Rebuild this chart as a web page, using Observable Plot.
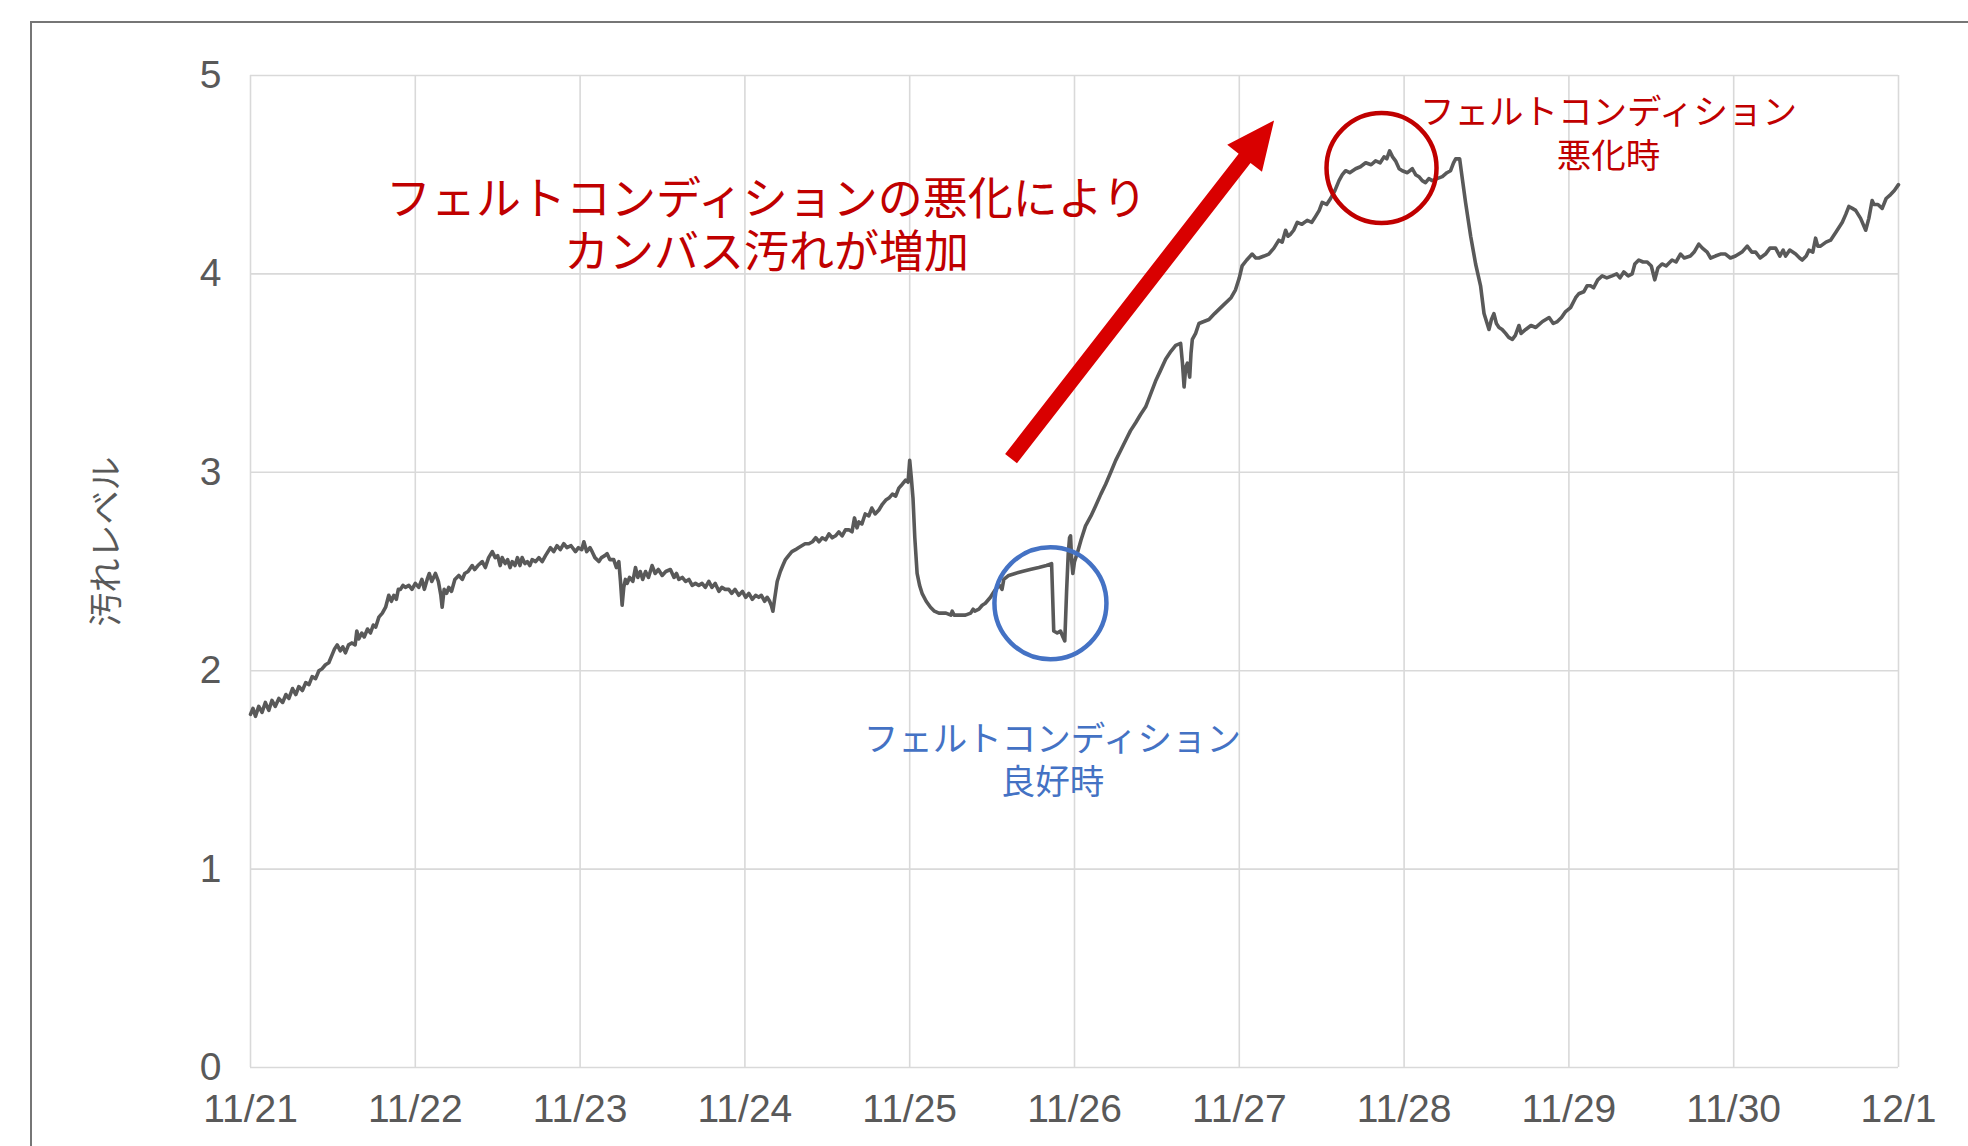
<!DOCTYPE html>
<html>
<head>
<meta charset="utf-8">
<script src="https://cdn.jsdelivr.net/npm/d3@7"></script>
<script src="https://cdn.jsdelivr.net/npm/@observablehq/plot@0.6"></script>
<style>
  html, body { margin: 0; padding: 0; background: #fff; overflow: hidden; }
  #wrap { position: relative; width: 1968px; height: 1146px; overflow: hidden; }
  #frame { position: absolute; left: 30px; top: 21px; width: 3000px; height: 3000px;
           border-left: 2.5px solid #767676; border-top: 2.5px solid #767676; }
  #chart { position: absolute; left: 0; top: 0; }
</style>
</head>
<body>
<div id="wrap"><div id="frame"></div><div id="chart"></div></div>
<script>
// ---- data (day offset from 11/21 00:00, dirt level) ----
const startDate = Date.UTC(2021, 10, 21);
const xTickLabels = ["11/21","11/22","11/23","11/24","11/25","11/26","11/27","11/28","11/29","11/30","12/1"];
const yTicks = [0, 1, 2, 3, 4, 5];
const yTickLabels = ["0", "1", "2", "3", "4", "5"];
const yLabel = "汚れレベル";

const readings = [
  [0.000,1.78],[0.015,1.81],[0.030,1.77],[0.050,1.82],[0.070,1.79],[0.090,1.84],[0.111,1.80],[0.130,1.85],
  [0.150,1.82],[0.172,1.86],[0.195,1.84],[0.215,1.88],[0.233,1.86],[0.255,1.91],[0.275,1.88],[0.293,1.92],
  [0.315,1.90],[0.335,1.94],[0.355,1.93],[0.374,1.97],[0.395,1.96],[0.415,2.00],[0.435,2.01],[0.455,2.03],
  [0.475,2.04],[0.495,2.08],[0.510,2.11],[0.526,2.13],[0.545,2.10],[0.560,2.12],[0.576,2.09],[0.595,2.13],
  [0.615,2.14],[0.635,2.13],[0.645,2.20],[0.657,2.16],[0.675,2.19],[0.690,2.17],[0.710,2.21],[0.728,2.19],
  [0.745,2.23],[0.760,2.22],[0.779,2.27],[0.800,2.29],[0.820,2.32],[0.839,2.38],[0.855,2.35],[0.870,2.38],
  [0.885,2.36],[0.897,2.41],[0.910,2.41],[0.925,2.43],[0.940,2.42],[0.961,2.43],[0.980,2.41],[1.000,2.44],
  [1.021,2.42],[1.040,2.46],[1.055,2.41],[1.072,2.46],[1.085,2.49],[1.100,2.45],[1.122,2.49],[1.140,2.45],
  [1.155,2.38],[1.163,2.32],[1.175,2.41],[1.190,2.39],[1.203,2.42],[1.220,2.40],[1.240,2.46],[1.264,2.48],
  [1.285,2.46],[1.300,2.49],[1.320,2.50],[1.345,2.53],[1.360,2.51],[1.380,2.53],[1.406,2.55],[1.425,2.52],
  [1.445,2.57],[1.467,2.60],[1.485,2.57],[1.500,2.58],[1.515,2.53],[1.527,2.57],[1.545,2.54],[1.560,2.56],
  [1.575,2.52],[1.588,2.55],[1.605,2.53],[1.620,2.57],[1.635,2.53],[1.648,2.57],[1.665,2.54],[1.680,2.55],
  [1.695,2.53],[1.709,2.56],[1.730,2.55],[1.750,2.57],[1.770,2.55],[1.790,2.58],[1.820,2.62],[1.840,2.60],
  [1.860,2.63],[1.880,2.61],[1.901,2.64],[1.920,2.62],[1.945,2.63],[1.972,2.60],[1.990,2.62],[2.010,2.61],
  [2.023,2.65],[2.040,2.60],[2.060,2.62],[2.073,2.60],[2.090,2.57],[2.114,2.55],[2.130,2.57],[2.150,2.58],
  [2.164,2.59],[2.180,2.56],[2.204,2.56],[2.220,2.52],[2.235,2.55],[2.245,2.45],[2.255,2.33],[2.265,2.42],
  [2.275,2.46],[2.286,2.44],[2.300,2.47],[2.320,2.45],[2.336,2.52],[2.350,2.47],[2.365,2.50],[2.380,2.46],
  [2.397,2.50],[2.415,2.47],[2.437,2.53],[2.455,2.49],[2.475,2.51],[2.498,2.48],[2.520,2.50],[2.548,2.51],
  [2.570,2.47],[2.585,2.49],[2.599,2.46],[2.620,2.47],[2.640,2.45],[2.660,2.46],[2.680,2.43],[2.700,2.44],
  [2.720,2.43],[2.740,2.44],[2.760,2.42],[2.781,2.45],[2.800,2.42],[2.820,2.44],[2.842,2.40],[2.860,2.42],
  [2.880,2.41],[2.902,2.41],[2.920,2.39],[2.940,2.41],[2.963,2.38],[2.985,2.40],[3.005,2.37],[3.024,2.39],
  [3.045,2.36],[3.065,2.38],[3.084,2.37],[3.100,2.38],[3.120,2.35],[3.135,2.37],[3.150,2.35],[3.160,2.33],
  [3.170,2.30],[3.180,2.36],[3.196,2.45],[3.215,2.50],[3.230,2.53],[3.246,2.56],[3.265,2.58],[3.285,2.60],
  [3.307,2.61],[3.325,2.62],[3.345,2.63],[3.365,2.64],[3.388,2.64],[3.410,2.65],[3.430,2.67],[3.450,2.65],
  [3.469,2.67],[3.490,2.66],[3.510,2.69],[3.530,2.67],[3.550,2.68],[3.570,2.70],[3.590,2.68],[3.610,2.71],
  [3.631,2.71],[3.650,2.70],[3.665,2.77],[3.680,2.72],[3.692,2.75],[3.710,2.74],[3.730,2.79],[3.752,2.78],
  [3.770,2.82],[3.790,2.79],[3.813,2.81],[3.835,2.84],[3.855,2.86],[3.874,2.87],[3.895,2.89],[3.915,2.88],
  [3.934,2.92],[3.955,2.94],[3.975,2.96],[3.990,2.95],[4.000,3.06],[4.010,2.97],[4.020,2.87],[4.031,2.67],
  [4.045,2.49],[4.060,2.43],[4.075,2.39],[4.100,2.35],[4.126,2.32],[4.150,2.30],[4.177,2.29],[4.220,2.29],
  [4.250,2.28],[4.258,2.30],[4.270,2.28],[4.300,2.28],[4.338,2.28],[4.370,2.29],[4.385,2.31],[4.395,2.30],
  [4.420,2.31],[4.440,2.33],[4.459,2.34],[4.490,2.37],[4.520,2.41],[4.545,2.43],[4.560,2.41],[4.571,2.46],
  [4.601,2.48],[4.640,2.49],[4.682,2.50],[4.730,2.51],[4.783,2.52],[4.830,2.53],[4.861,2.54],[4.874,2.20],
  [4.895,2.19],[4.915,2.20],[4.930,2.17],[4.941,2.15],[4.952,2.40],[4.962,2.59],[4.970,2.67],[4.976,2.68],
  [4.983,2.55],[4.990,2.49],[5.000,2.55],[5.016,2.59],[5.040,2.66],[5.067,2.73],[5.100,2.78],[5.128,2.83],
  [5.160,2.89],[5.189,2.94],[5.220,3.00],[5.250,3.06],[5.280,3.11],[5.310,3.16],[5.340,3.21],[5.371,3.25],
  [5.400,3.29],[5.432,3.33],[5.460,3.39],[5.492,3.46],[5.520,3.51],[5.553,3.57],[5.585,3.61],[5.614,3.64],
  [5.644,3.65],[5.655,3.55],[5.665,3.43],[5.675,3.53],[5.685,3.55],[5.699,3.48],[5.707,3.60],[5.715,3.67],
  [5.735,3.70],[5.755,3.75],[5.785,3.76],[5.816,3.77],[5.850,3.80],[5.900,3.84],[5.950,3.88],[5.977,3.92],
  [6.000,3.98],[6.017,4.04],[6.045,4.07],[6.078,4.10],[6.100,4.08],[6.119,4.08],[6.150,4.09],[6.179,4.10],
  [6.210,4.13],[6.240,4.17],[6.260,4.16],[6.281,4.22],[6.295,4.19],[6.311,4.20],[6.330,4.22],[6.352,4.26],
  [6.380,4.25],[6.412,4.27],[6.440,4.26],[6.463,4.29],[6.485,4.32],[6.503,4.36],[6.530,4.35],[6.554,4.38],
  [6.580,4.42],[6.605,4.47],[6.625,4.50],[6.645,4.52],[6.670,4.51],[6.706,4.53],[6.735,4.54],[6.767,4.56],
  [6.800,4.55],[6.827,4.57],[6.855,4.56],[6.878,4.59],[6.895,4.58],[6.912,4.62],[6.930,4.59],[6.948,4.57],
  [6.970,4.53],[6.989,4.52],[7.020,4.51],[7.050,4.53],[7.070,4.50],[7.090,4.49],[7.110,4.47],[7.130,4.46],
  [7.150,4.48],[7.171,4.47],[7.200,4.48],[7.232,4.49],[7.260,4.51],[7.282,4.52],[7.300,4.56],[7.313,4.58],
  [7.337,4.58],[7.350,4.50],[7.373,4.36],[7.404,4.19],[7.434,4.05],[7.464,3.94],[7.485,3.80],[7.500,3.76],
  [7.515,3.72],[7.530,3.77],[7.545,3.80],[7.560,3.75],[7.576,3.73],[7.595,3.72],[7.616,3.70],[7.635,3.68],
  [7.657,3.67],[7.675,3.69],[7.697,3.74],[7.710,3.70],[7.738,3.72],[7.770,3.74],[7.799,3.73],[7.840,3.76],
  [7.880,3.78],[7.905,3.75],[7.930,3.76],[7.955,3.78],[7.980,3.81],[8.010,3.83],[8.041,3.88],[8.060,3.90],
  [8.090,3.91],[8.110,3.94],[8.131,3.94],[8.150,3.93],[8.175,3.97],[8.202,3.99],[8.230,3.98],[8.262,3.99],
  [8.290,4.00],[8.310,3.98],[8.333,4.01],[8.360,3.99],[8.384,4.00],[8.400,4.05],[8.424,4.07],[8.450,4.06],
  [8.475,4.06],[8.500,4.04],[8.521,3.97],[8.540,4.03],[8.565,4.05],[8.590,4.04],[8.626,4.07],[8.650,4.06],
  [8.677,4.10],[8.700,4.08],[8.737,4.09],[8.760,4.11],[8.788,4.15],[8.810,4.13],[8.839,4.11],[8.860,4.08],
  [8.889,4.09],[8.920,4.10],[8.950,4.10],[8.980,4.08],[9.011,4.09],[9.050,4.11],[9.082,4.14],[9.110,4.11],
  [9.133,4.11],[9.160,4.08],[9.193,4.10],[9.220,4.13],[9.254,4.13],[9.280,4.09],[9.300,4.12],[9.315,4.09],
  [9.340,4.12],[9.376,4.10],[9.400,4.08],[9.416,4.07],[9.440,4.09],[9.457,4.12],[9.480,4.11],[9.497,4.18],
  [9.510,4.14],[9.527,4.14],[9.560,4.16],[9.588,4.17],[9.620,4.21],[9.659,4.26],[9.680,4.30],[9.699,4.34],
  [9.720,4.33],[9.740,4.32],[9.770,4.28],[9.801,4.22],[9.820,4.28],[9.840,4.37],[9.851,4.35],[9.875,4.35],
  [9.901,4.33],[9.925,4.38],[9.952,4.40],[9.975,4.42],[10.000,4.45]
];

// ---- annotations (in data coordinates: day offset, level) ----
const mainNote = {text: "フェルトコンディションの悪化により\nカンバス汚れが増加", at: [3.131, 4.249]};
const badNote = {text: "フェルトコンディション\n悪化時", at: [8.24, 4.715]};
const goodNote = {text: "フェルトコンディション\n良好時", at: [4.866, 1.556]};
const badCircle = [6.863, 4.534];
const goodCircle = [4.854, 2.34];
const trendArrow = {from: [4.618, 3.066], to: [6.214, 4.771]};

// ---- helpers ----
const DAY = 864e5;
const toDate = d => new Date(startDate + d * DAY);
const dayTicks = xTickLabels.map((_, i) => toDate(i));
const fmtX = d => xTickLabels[Math.round((+d - startDate) / DAY)];
const fmtY = v => yTickLabels[yTicks.indexOf(v)];

const RED = "#c00000", ARROW_RED = "#d90000", BLUE = "#4472c4", GRAY = "#595959";

function noteMark(note, color, size, lineHeight) {
  return Plot.text([note], {x: n => toDate(n.at[0]), y: n => n.at[1], text: "text", fill: color,
    fontSize: size, lineHeight, textAnchor: "middle", fontFamily: "'Noto Sans CJK JP', sans-serif"});
}

function arrowMark(a) {
  return (index, scales) => {
    const x1 = scales.x(toDate(a.from[0])), y1 = scales.y(a.from[1]);
    const x2 = scales.x(toDate(a.to[0])), y2 = scales.y(a.to[1]);
    const dx = x2 - x1, dy = y2 - y1, L = Math.hypot(dx, dy);
    const ux = dx / L, uy = dy / L, px = -uy, py = ux;
    const sw = 7.5, hw = 22, hl = 48;
    const bx = x2 - ux * hl, by = y2 - uy * hl;
    const pts = [
      [x1 + px * sw, y1 + py * sw], [bx + px * sw, by + py * sw], [bx + px * hw, by + py * hw],
      [x2, y2], [bx - px * hw, by - py * hw], [bx - px * sw, by - py * sw], [x1 - px * sw, y1 - py * sw]
    ];
    return d3.create("svg:path")
      .attr("d", "M" + pts.map(p => p.join(",")).join("L") + "Z")
      .attr("fill", ARROW_RED)
      .node();
  };
}

const chart = Plot.plot({
  width: 1968,
  height: 1146,
  marginLeft: 250,
  marginRight: 70,
  marginTop: 75,
  marginBottom: 79,
  style: {fontFamily: "'Liberation Sans', 'Noto Sans CJK JP', sans-serif", background: "transparent", color: GRAY},
  x: {type: "utc", domain: [toDate(0), toDate(10)]},
  y: {domain: [0, 5]},
  marks: [
    Plot.gridX(dayTicks, {stroke: "#d9d9d9", strokeOpacity: 1, strokeWidth: 1.6}),
    Plot.gridY(yTicks, {stroke: "#d9d9d9", strokeOpacity: 1, strokeWidth: 1.6}),
    Plot.axisX(dayTicks, {tickSize: 0, tickPadding: 27, fontSize: 39, tickFormat: fmtX, fill: GRAY, label: null}),
    Plot.axisY(yTicks, {tickSize: 0, tickPadding: 29, fontSize: 39, tickFormat: fmtY, fill: GRAY, label: null}),
    Plot.text([yLabel], {frameAnchor: "left", textAnchor: "middle", dx: -143, dy: -30, rotate: -90,
      fontSize: 34, fill: GRAY, fontFamily: "'Noto Sans CJK JP', sans-serif"}),
    Plot.line(readings, {x: r => toDate(r[0]), y: r => r[1], stroke: GRAY, strokeWidth: 3.6,
      strokeLinejoin: "round", strokeLinecap: "round"}),
    Plot.dot([badCircle], {x: c => toDate(c[0]), y: c => c[1], r: 55, stroke: RED, strokeWidth: 4.5, fill: "none"}),
    Plot.dot([goodCircle], {x: c => toDate(c[0]), y: c => c[1], r: 56, stroke: BLUE, strokeWidth: 4.5, fill: "none"}),
    arrowMark(trendArrow),
    noteMark(mainNote, RED, 45, 1.18),
    noteMark(badNote, RED, 34.5, 1.27),
    noteMark(goodNote, BLUE, 34.5, 1.25)
  ]
});
document.getElementById("chart").appendChild(chart);
</script>
</body>
</html>
